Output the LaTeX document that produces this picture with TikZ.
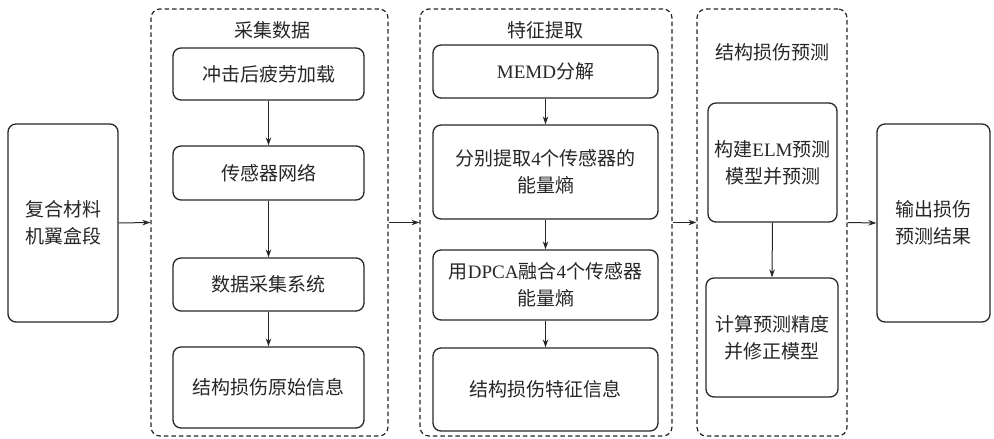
\documentclass[tikz,border=0pt]{standalone}
\usepackage{fontspec}
\newfontfamily\cjk{Noto Sans CJK SC}
\newfontfamily\latinfont{Liberation Serif}
\newcommand\lat[1]{{\latinfont #1}}
\usetikzlibrary{arrows.meta}
\begin{document}
\begin{tikzpicture}[x=1pt,y=-1pt,
  font=\cjk\fontsize{19}{27}\selectfont,
  every node/.style={text=black!85},
  box/.style={draw=black!85, line width=1.3pt, rounded corners=8pt, align=center, inner sep=0pt},
  group/.style={draw=black!85, line width=1.2pt, dash pattern=on 4.5pt off 3pt, rounded corners=9pt, inner sep=0pt},
  title/.style={inner sep=0pt},
  arr/.style={draw=black!85, line width=1pt, -{Stealth[length=8pt,width=5.5pt]}}
]
\useasboundingbox (0,0) rectangle (994,439);

% groups
\node[group, minimum width=237pt, minimum height=427pt] (D1) at (269.5,222.5) {};
\node[group, minimum width=252pt, minimum height=427pt] (D2) at (546,222.5) {};
\node[group, minimum width=150pt, minimum height=427pt] (D3) at (772,222.5) {};

\node[title] (T1) at (272,30) {采集数据};
\node[title] (T2) at (545,30) {特征提取};
\node[title] (T3) at (772,52) {结构损伤预测};

% outer boxes
\node[box, minimum width=110pt, minimum height=198pt] (L) at (63,223) {复合材料\\机翼盒段};
\node[box, minimum width=113pt, minimum height=198pt] (R) at (933.5,223) {输出损伤\\预测结果};

% column 1
\node[box, minimum width=191pt, minimum height=52pt] (A1) at (268.5,74) {冲击后疲劳加载};
\node[box, minimum width=191pt, minimum height=54pt] (A2) at (268.5,173) {传感器网络};
\node[box, minimum width=191pt, minimum height=53pt] (A3) at (268.5,284.5) {数据采集系统};
\node[box, minimum width=191pt, minimum height=81pt] (A4) at (268.5,387.5) {结构损伤原始信息};

% column 2
\node[box, minimum width=225pt, minimum height=53pt] (B1) at (545.5,71.5) {\lat{MEMD}分解};
\node[box, minimum width=225pt, minimum height=94pt] (B2) at (545.5,172) {分别提取\lat{4}个传感器的\\能量熵};
\node[box, minimum width=225pt, minimum height=70pt] (B3) at (545.5,285) {用\lat{DPCA}融合\lat{4}个传感器\\能量熵};
\node[box, minimum width=225pt, minimum height=83pt] (B4) at (545.5,389.5) {结构损伤特征信息};

% column 3
\node[box, minimum width=129pt, minimum height=119pt] (C1) at (772.5,162.5) {构建\lat{ELM}预测\\模型并预测};
\node[box, minimum width=132pt, minimum height=119pt] (C2) at (772,337.5) {计算预测精度\\并修正模型};

% arrows
\draw[arr] (A1) -- (A2);
\draw[arr] (A2) -- (A3);
\draw[arr] (A3) -- (A4);
\draw[arr] (B1) -- (B2);
\draw[arr] (B2) -- (B3);
\draw[arr] (B3) -- (B4);
\draw[arr] (C1.south) -- (C2.north);

\draw[arr] (L.east) -- (D1.west);
\draw[arr] (D1.east) -- (D2.west);
\draw[arr] (D2.east) -- (D3.west);
\draw[arr] (D3.east) -- (R.west);
\end{tikzpicture}
\end{document}
